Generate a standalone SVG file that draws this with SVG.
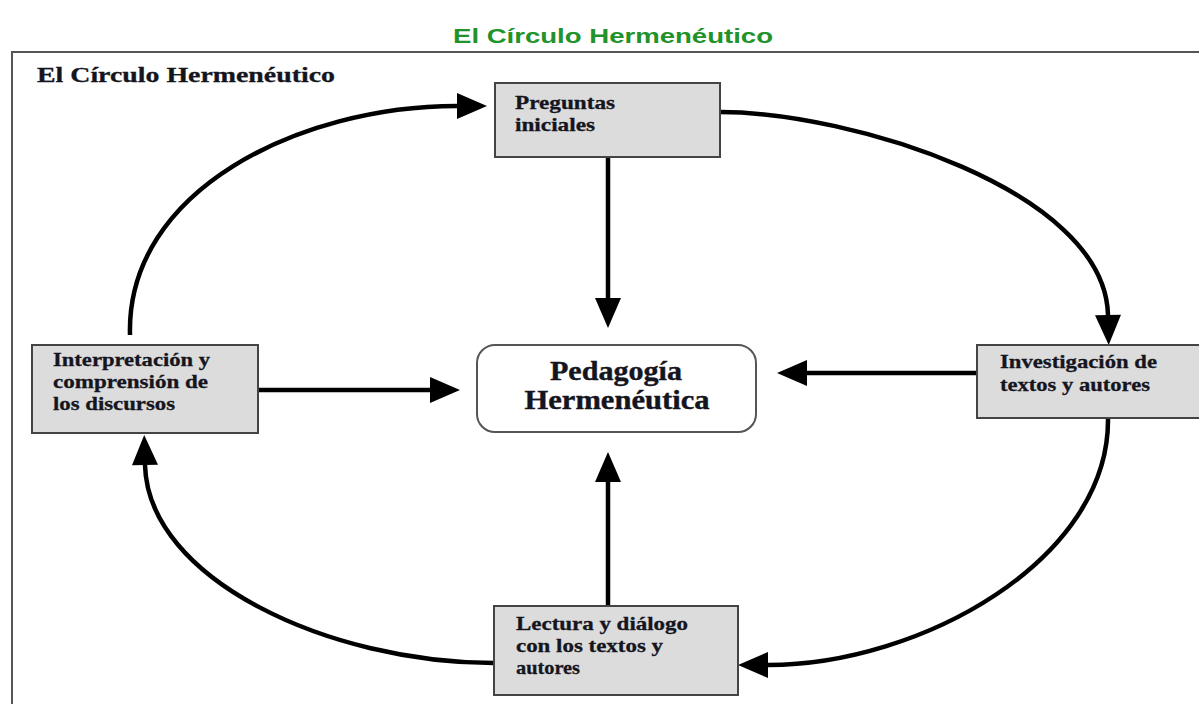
<svg xmlns="http://www.w3.org/2000/svg" width="1199" height="704" viewBox="0 0 1199 704">
<style>
.box{fill:#dcdcdc;stroke:#444;stroke-width:2}
.cbox{fill:#fff;stroke:#555;stroke-width:2}
.t{font-family:"Liberation Serif","Times New Roman",serif;font-weight:bold;font-size:19px;fill:#151520;stroke:#151520;stroke-width:0.3}
.ct{font-family:"Liberation Serif","Times New Roman",serif;font-weight:bold;font-size:27px;fill:#151520;stroke:#151520;stroke-width:0.4}
.con{fill:none;stroke:#000;stroke-width:4.5;marker-end:url(#ah)}
</style>
<defs>
<marker id="ah" markerUnits="userSpaceOnUse" markerWidth="32" markerHeight="28" refX="0" refY="13" orient="auto" overflow="visible">
<path d="M0,0 L30,13 L0,26 Z" fill="#000"/>
</marker>
</defs>
<rect width="1199" height="704" fill="#fff"/>
<text x="613" y="43" text-anchor="middle" textLength="320" lengthAdjust="spacingAndGlyphs" style="font-family:'Liberation Sans',Arial,sans-serif;font-weight:bold;font-size:20px;fill:#22922a">El Círculo Hermenéutico</text>
<g id="frame">
<path d="M12,704 L12,52 L1199,52" fill="none" stroke="#555" stroke-width="2"/>
<text x="37" y="82" textLength="298" lengthAdjust="spacingAndGlyphs" class="t" style="font-size:21px">El Círculo Hermenéutico</text>
</g>
<g id="connectors">
<path class="con" d="M130,335 C126,190 300,106 457,106"/>
<path class="con" d="M720,112 C850,112 1105,190 1108,315"/>
<path class="con" d="M1108,418 C1110,560 920,665 768,665"/>
<path class="con" d="M494,663 C330,663 148,580 145,465"/>
<path class="con" d="M608,157 L608,298"/>
<path class="con" d="M608,606 L608,482"/>
<path class="con" d="M258,390 L430,390"/>
<path class="con" d="M977,373 L807,373"/>
</g>
<g id="preguntas">
<rect class="box" x="495" y="83" width="225" height="74"/>
<text class="t" x="515" y="109" textLength="100" lengthAdjust="spacingAndGlyphs">Preguntas</text>
<text class="t" x="515" y="131" textLength="80" lengthAdjust="spacingAndGlyphs">iniciales</text>
</g>
<g id="interpretacion">
<rect class="box" x="32" y="345" width="226" height="88"/>
<text class="t" x="53" y="366" textLength="157" lengthAdjust="spacingAndGlyphs">Interpretación y</text>
<text class="t" x="53" y="388" textLength="155" lengthAdjust="spacingAndGlyphs">comprensión de</text>
<text class="t" x="53" y="410" textLength="122" lengthAdjust="spacingAndGlyphs">los discursos</text>
</g>
<g id="investigacion">
<rect class="box" x="977" y="345" width="240" height="73"/>
<text class="t" x="1000" y="368" textLength="157" lengthAdjust="spacingAndGlyphs">Investigación de</text>
<text class="t" x="1000" y="391" textLength="150" lengthAdjust="spacingAndGlyphs">textos y autores</text>
</g>
<g id="lectura">
<rect class="box" x="494" y="606" width="244" height="89"/>
<text class="t" x="516" y="630" textLength="172" lengthAdjust="spacingAndGlyphs">Lectura y diálogo</text>
<text class="t" x="516" y="652" textLength="147" lengthAdjust="spacingAndGlyphs">con los textos y</text>
<text class="t" x="516" y="674" textLength="64" lengthAdjust="spacingAndGlyphs">autores</text>
</g>
<g id="pedagogia">
<rect class="cbox" x="477" y="345" width="279" height="87" rx="18"/>
<text class="ct" x="616" y="380" text-anchor="middle" textLength="132" lengthAdjust="spacingAndGlyphs">Pedagogía</text>
<text class="ct" x="617" y="409" text-anchor="middle" textLength="185" lengthAdjust="spacingAndGlyphs">Hermenéutica</text>
</g>
</svg>
